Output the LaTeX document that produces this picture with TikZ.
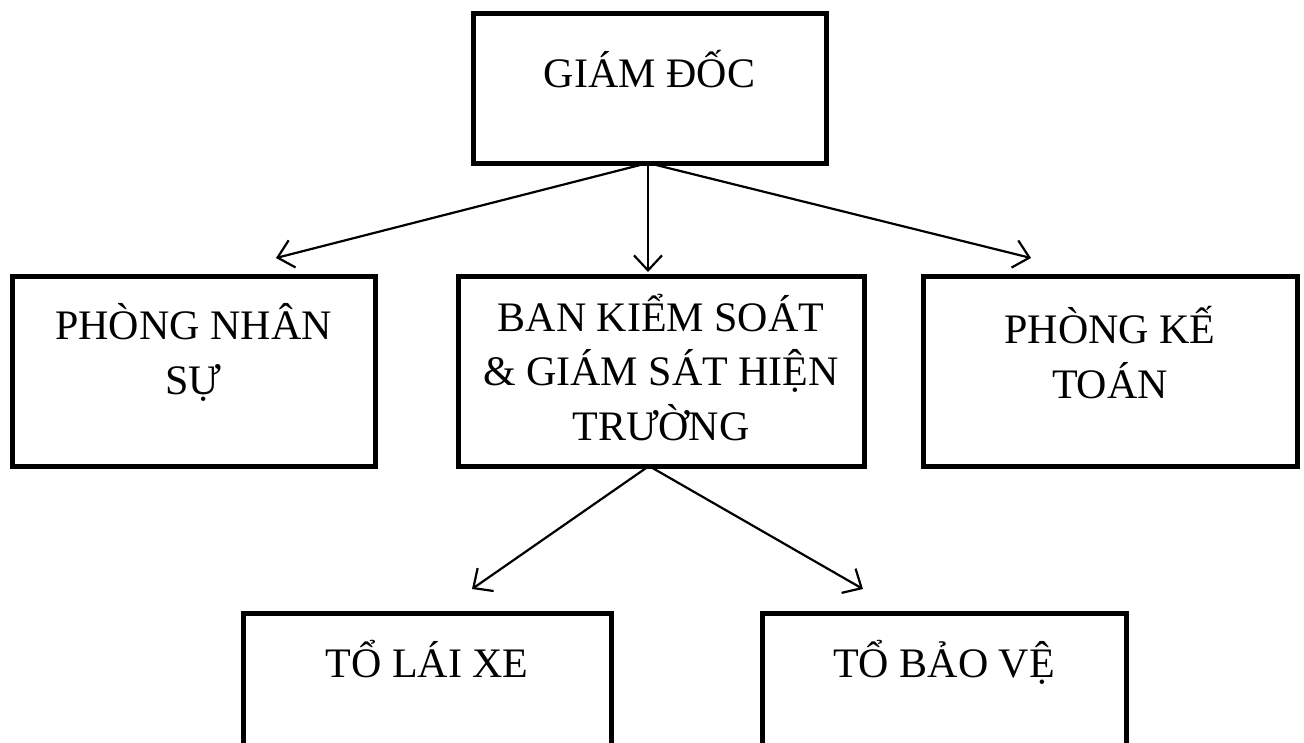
\documentclass[tikz,border=0pt]{standalone}
\usepackage{fontspec}
\setmainfont{Liberation Serif}
\usetikzlibrary{arrows.meta}

\begin{document}
\begin{tikzpicture}[x=1pt,y=-1pt,
  box/.style={draw=black, line width=5pt, rectangle, inner sep=0pt},
  % anchor=base sits on the baseline of the last line of a label
  label/.style={font=\fontsize{42}{54.5}\selectfont, align=center, anchor=base, inner sep=0pt},
  link/.style={draw=black, line width=2.2pt, -{Straight Barb[length=15pt,width=28pt,line width=2.2pt]}}
]
\useasboundingbox (0,0) rectangle (1304,742);
\clip (0,0) rectangle (1304,742);

% boxes
\node[box, minimum width=353pt, minimum height=150pt] (gd) at (649.5,88) {};
\node[box, minimum width=363pt, minimum height=190pt] (ns) at (193.5,371) {};
\node[box, minimum width=406pt, minimum height=190pt] (bk) at (661,371) {};
\node[box, minimum width=374pt, minimum height=190pt] (kt) at (1110,371) {};
\node[box, minimum width=368pt, minimum height=240pt] (lx) at (427,733) {};
\node[box, minimum width=364pt, minimum height=240pt] (bv) at (944,733) {};

% box texts
\node[label] (gdt) at (649.5,87) {GIÁM ĐỐC};
\node[label] (nst) at (193.5,394) {PHÒNG NHÂN\\SỰ};
\node[label] (bkt) at (661,440) {BAN KIỂM SOÁT\\\& GIÁM SÁT HIỆN\\TRƯỜNG};
\node[label] (ktt) at (1110,398) {PHÒNG KẾ\\TOÁN};
\node[label] (lxt) at (427,677) {TỔ LÁI XE};
\node[label] (bvt) at (944,677) {TỔ BẢO VỆ};

% arrow end points
\coordinate (gdout) at (648,163);
\coordinate (bkout) at (649,466);
\coordinate (nsin) at (276,258);
\coordinate (bkin) at (648,272);
\coordinate (ktin) at (1031,258);
\coordinate (lxin) at (472,589);
\coordinate (bvin) at (863,589);

% connectors
\draw[link] (gdout) -- (nsin);
\draw[link] (gdout) -- (bkin);
\draw[link] (gdout) -- (ktin);
\draw[link] (bkout) -- (lxin);
\draw[link] (bkout) -- (bvin);
\end{tikzpicture}
\end{document}
